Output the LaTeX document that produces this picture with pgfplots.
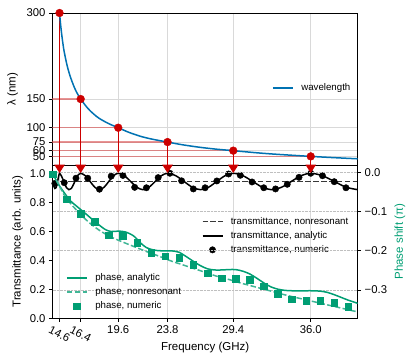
\documentclass[border=0pt]{standalone}
\usepackage{fontspec}
\setmainfont{Liberation Sans}
\usepackage{pgfplots}
\pgfplotsset{compat=1.18}
\usetikzlibrary{arrows.meta}

\definecolor{wlblue}{RGB}{0,114,178}
\definecolor{phgreen}{RGB}{0,158,115}
\definecolor{ptred}{RGB}{204,0,0}

\pgfplotsset{
  every axis/.append style={
    scale only axis, width=305.2pt,
    xmin=14, xmax=40,
    axis line style={line width=0.8pt},
    tick align=outside, major tick length=3.5pt,
    tick style={black, line width=0.8pt},
    tick label style={font=\fontsize{11.3}{13}\selectfont},
    label style={font=\fontsize{11.5}{13}\selectfont},
    /pgf/number format/assume math mode=true,
    legend cell align=left,
    legend style={draw=none, fill=none, inner sep=0pt, row sep=4.6pt,
      font=\fontsize{9.7}{11}\selectfont,
      nodes={inner sep=0pt, text height=7.3pt, text depth=2.2pt},
      /tikz/every odd column/.style={column sep=7.5pt}},
  },
  lineleg/.style={legend image code/.code={\draw[##1, line width=1.6pt] (0pt,0pt) -- (20pt,0pt);}},
  markleg/.style={legend image code/.code={\path (0pt,0pt) (20pt,0pt); \path[##1] plot coordinates {(10pt,0pt)};}},
}

\begin{document}
\begin{tikzpicture}
\useasboundingbox (-52.5pt,-43.7pt) rectangle (362.5pt,318.3pt);

% transmittance
\begin{axis}[at={(0pt,0pt)}, anchor=south west, height=153.3pt,
  ymin=0, ymax=1.057,
  xtick={14.6,16.4,19.6,23.8,29.4,36.0},
  xticklabels={\rotatebox{-27}{14.6},\rotatebox{-27}{16.4},19.6,23.8,29.4,36.0},
  ytick={0,0.2,0.4,0.6,0.8,1.0}, yticklabels={0.0,0.2,0.4,0.6,0.8,1.0},
  xtick pos=bottom, ytick pos=left,
  xmajorgrids, major grid style={gray!30, line width=0.6pt},
  xlabel={Frequency (GHz)}, ylabel={Transmittance (arb. units)},
  xlabel style={at={(rel axis cs:0.5,-0.1533)}, anchor=north, inner sep=0pt},
  ylabel style={at={(rel axis cs:-0.0957,0.5)}, anchor=south, inner sep=0pt},
  legend style={at={(rel axis cs:0.4882,0.6628)}, anchor=north west},
]
\addplot[black!78, line width=1.5pt, dash pattern=on 5.5pt off 2.4pt, lineleg] coordinates {(14,0.942) (40,0.942)};
\addlegendentry{transmittance, nonresonant}
\addplot[black, line width=1.5pt, smooth, lineleg] coordinates {
  (14.0,0.95) (14.1,0.915) (14.2,0.895) (14.3,0.9) (14.4,0.93) (14.5,0.97) (14.6,1.0)
  (14.8,0.975) (15.0,0.935) (15.2,0.9) (15.4,0.887) (15.6,0.895) (15.8,0.925) (16.0,0.96) (16.2,0.99) (16.4,1.0)
  (16.8,0.983) (17.2,0.944) (17.6,0.904) (18.0,0.887) (18.4,0.904) (18.8,0.944) (19.2,0.983) (19.6,1.0)
  (20.125,0.983) (20.65,0.944) (21.175,0.904) (21.7,0.887) (22.225,0.904) (22.75,0.944) (23.275,0.983) (23.8,1.0)
  (24.5,0.983) (25.2,0.944) (25.9,0.904) (26.6,0.887) (27.3,0.904) (28.0,0.944) (28.7,0.983) (29.4,1.0)
  (30.225,0.983) (31.05,0.944) (31.875,0.904) (32.7,0.887) (33.525,0.904) (34.35,0.944) (35.175,0.983) (36.0,1.0)
  (37,0.983) (38,0.944) (39,0.904) (40,0.887)};
\addlegendentry{transmittance, analytic}
\addplot[only marks, mark=*, mark size=3.2pt, black, markleg] coordinates {
  (14.2,0.93) (15,0.935) (16,0.966) (17,0.966) (18,0.89) (19,0.98) (20,0.985)
  (21,0.903) (22,0.9) (23,0.97) (24,1.0) (25,0.948) (26,0.892) (27,0.9)
  (28,0.947) (29,0.995) (30,0.986) (31,0.94) (32,0.9) (33,0.892) (34,0.924)
  (35,0.972) (36,1.0) (37,0.983) (38,0.942) (39,0.9)};
\addlegendentry{transmittance, numeric}
\end{axis}

% phase
\begin{axis}[at={(0pt,0pt)}, anchor=south west, height=153.3pt,
  ymin=-0.3722, ymax=0.0186,
  axis y line*=right, axis x line=none,
  ytick={-0.3,-0.2,-0.1,0}, yticklabels={−0.3,−0.2,−0.1,0.0},
  ymajorgrids, major grid style={gray!50, densely dotted, line width=0.6pt},
  ylabel={Phase shift (π)},
  ylabel style={at={(rel axis cs:1.1199,0.5)}, anchor=north, inner sep=0pt, text=phgreen},
  legend style={at={(rel axis cs:0.0442,0.2955)}, anchor=north west},
]
\addplot[phgreen, line width=1.5pt, smooth, lineleg] coordinates {
  (14.0,0.0) (14.3,-0.02) (14.6,-0.035) (15.0,-0.052) (15.5,-0.072) (16.0,-0.085)
  (16.4,-0.095) (17.0,-0.110) (17.5,-0.123) (18.0,-0.135) (18.5,-0.146) (19.0,-0.151)
  (19.6,-0.150) (20.2,-0.152) (20.9,-0.162) (21.5,-0.180) (22.0,-0.192) (22.6,-0.198)
  (23.2,-0.200) (23.8,-0.200) (24.4,-0.201) (24.8,-0.204) (25.4,-0.215) (26.0,-0.227)
  (26.6,-0.238) (27.2,-0.246) (27.8,-0.249) (28.4,-0.249) (29.0,-0.248) (29.6,-0.248)
  (30.2,-0.252) (30.8,-0.259) (31.4,-0.270) (32.0,-0.282) (32.6,-0.292) (33.2,-0.298)
  (33.8,-0.301) (34.4,-0.302) (35.0,-0.302) (35.6,-0.302) (36.2,-0.302) (36.8,-0.303)
  (37.4,-0.306) (38.0,-0.312) (38.6,-0.319) (39.2,-0.326) (40.0,-0.334)};
\addlegendentry{phase, analytic}
\addplot[phgreen!75!white, line width=1.5pt, dash pattern=on 5.5pt off 2.4pt, smooth, lineleg] coordinates {
  (14.0,0.0) (14.3,-0.018) (14.6,-0.035) (15.0,-0.058) (15.5,-0.078) (16,-0.095)
  (17,-0.125) (18,-0.148) (19,-0.165) (20,-0.178) (21,-0.19) (22,-0.202) (23,-0.213)
  (24,-0.225) (25,-0.235) (26,-0.245) (27,-0.255) (28,-0.265) (29,-0.273) (30,-0.282)
  (31,-0.29) (32,-0.298) (33,-0.306) (34,-0.314) (35,-0.321) (36,-0.328) (37,-0.335)
  (38,-0.342) (39,-0.349) (40,-0.356)};
\addlegendentry{phase, nonresonant}
\addplot[only marks, mark=square*, mark size=3.3pt, phgreen, markleg] coordinates {
  (14.0,-0.005) (15.2,-0.069) (16.4,-0.106) (17.6,-0.126) (18.8,-0.160) (20.0,-0.162)
  (21.2,-0.180) (22.4,-0.205) (23.6,-0.214) (24.8,-0.218) (26.0,-0.235) (27.2,-0.257)
  (28.4,-0.270) (29.6,-0.272) (30.8,-0.274) (32.0,-0.290) (33.2,-0.310) (34.4,-0.324)
  (35.6,-0.328) (36.8,-0.327) (38.0,-0.332) (39.2,-0.343)};
\addlegendentry{phase, numeric}
\end{axis}

% wavelength
\begin{axis}[at={(0pt,153.3pt)}, anchor=south west, height=152pt, clip=false,
  ymin=35, ymax=300, ytick={50,60,75,100,150,300},
  xtick={14.6,16.4,19.6,23.8,29.4,36.0}, xticklabels={}, xtick style={draw=none},
  ytick pos=left,
  grid=major, major grid style={gray!30, line width=0.6pt},
  ylabel={λ (nm)},
  ylabel style={at={(rel axis cs:-0.1121,0.5)}, anchor=south, inner sep=0pt},
  legend style={at={(rel axis cs:0.7192,0.5066)}, anchor=west},
]
\addplot[ptred!70!white, opacity=0.6, line width=1.2pt, forget plot] coordinates {(14,150) (16.4,150)};
\addplot[ptred!70!white, opacity=0.6, line width=1.2pt, forget plot] coordinates {(14,100) (19.6,100)};
\addplot[ptred!70!white, opacity=0.6, line width=1.2pt, forget plot] coordinates {(14,75) (23.8,75)};
\addplot[ptred!70!white, opacity=0.6, line width=1.2pt, forget plot] coordinates {(14,60) (29.4,60)};
\addplot[ptred!70!white, opacity=0.6, line width=1.2pt, forget plot] coordinates {(14,50) (36.0,50)};
\addplot[ptred, line width=1pt, -{Triangle[width=10.5pt,length=8.5pt]}, forget plot] coordinates {(14.6,300) (14.6,21)};
\addplot[ptred, line width=1pt, -{Triangle[width=10.5pt,length=8.5pt]}, forget plot] coordinates {(16.4,150) (16.4,21)};
\addplot[ptred, line width=1pt, -{Triangle[width=10.5pt,length=8.5pt]}, forget plot] coordinates {(19.6,100) (19.6,21)};
\addplot[ptred, line width=1pt, -{Triangle[width=10.5pt,length=8.5pt]}, forget plot] coordinates {(23.8,75) (23.8,21)};
\addplot[ptred, line width=1pt, -{Triangle[width=10.5pt,length=8.5pt]}, forget plot] coordinates {(29.4,60) (29.4,21)};
\addplot[ptred, line width=1pt, -{Triangle[width=10.5pt,length=8.5pt]}, forget plot] coordinates {(36.0,50) (36.0,21)};
\addplot[wlblue, line width=1.5pt, smooth, lineleg] coordinates {
  (14.6,300) (14.7,278) (14.8,260) (14.9,245) (15.0,232) (15.25,208) (15.5,190)
  (15.75,176) (16.0,164) (16.4,150) (17.0,134) (17.5,124) (18.0,116) (18.8,107)
  (19.6,100) (20.5,92) (21.5,85) (22.5,80) (23.8,75) (25.0,70.5) (26.5,66)
  (28.0,62.5) (29.4,60) (31.0,57) (32.5,54.5) (34.0,52.5) (36.0,50) (38.0,47.8) (40.0,45.8)};
\addlegendentry{wavelength}
\addplot[only marks, mark=*, mark size=3.9pt, ptred, forget plot] coordinates {
  (14.6,300) (16.4,150) (19.6,100) (23.8,75) (29.4,60) (36.0,50)};
\end{axis}
\end{tikzpicture}
\end{document}
